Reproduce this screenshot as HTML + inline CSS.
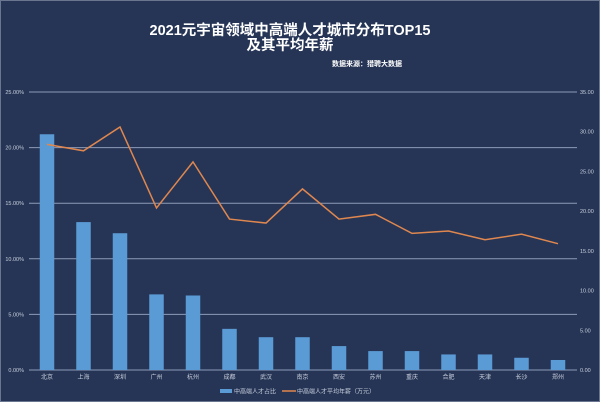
<!DOCTYPE html>
<html><head><meta charset="utf-8"><style>
html,body{margin:0;padding:0;background:#263556;}
svg{display:block}
text{font-family:"Liberation Sans","Noto Sans CJK SC",sans-serif;}
</style></head><body>
<svg width="600" height="402" viewBox="0 0 600 402" xmlns="http://www.w3.org/2000/svg">
<rect x="0" y="0" width="600" height="402" fill="#263556"/>
<rect x="0.5" y="0.5" width="599" height="401" fill="none" stroke="#6a7690" stroke-width="1"/>
<text x="290" y="35" fill="#fff" font-size="14.5" font-weight="bold" text-anchor="middle">2021元宇宙领域中高端人才城市分布TOP15</text>
<text x="290" y="50" fill="#fff" font-size="14.5" font-weight="bold" text-anchor="middle">及其平均年薪</text>
<text x="367" y="66" fill="#fff" font-size="7" font-weight="bold" text-anchor="middle">数据来源：猎聘大数据</text>
<g stroke="#8e9bb8" stroke-width="1">
<line x1="29" y1="92" x2="577" y2="92"/>
<line x1="29" y1="147.6" x2="577" y2="147.6"/>
<line x1="29" y1="203.2" x2="577" y2="203.2"/>
<line x1="29" y1="258.8" x2="577" y2="258.8"/>
<line x1="29" y1="314.4" x2="577" y2="314.4"/>
<line x1="29" y1="370" x2="577" y2="370"/>
</g>
<g fill="#c8cedc" font-size="5.5" text-anchor="end">
<text x="24" y="94">25.00%</text><text x="24" y="149.6">20.00%</text><text x="24" y="205.2">15.00%</text><text x="24" y="260.8">10.00%</text><text x="24" y="316.4">5.00%</text><text x="24" y="372">0.00%</text>
</g>
<g fill="#c8cedc" font-size="5.5">
<text x="580" y="94">35.00</text><text x="580" y="133.7">30.00</text><text x="580" y="173.4">25.00</text><text x="580" y="213.1">20.00</text><text x="580" y="252.9">15.00</text><text x="580" y="292.6">10.00</text><text x="580" y="332.3">5.00</text><text x="580" y="372">0.00</text>
</g>
<g fill="#5b9bd5" id="bars"></g>
<polyline id="ln" fill="none" stroke="#e0874f" stroke-width="1.5"/>
<g id="cats" fill="#c8cedc" font-size="6" text-anchor="middle"></g>
<rect x="220" y="389" width="12" height="4" fill="#5b9bd5"/>
<text x="234" y="393.5" fill="#c8cedc" font-size="6">中高端人才占比</text>
<line x1="282" y1="391" x2="296" y2="391" stroke="#e0874f" stroke-width="1.5"/>
<text x="297" y="393.5" fill="#c8cedc" font-size="6">中高端人才平均年薪（万元）</text>
<script>
var c=["北京","上海","深圳","广州","杭州","成都","武汉","南京","西安","苏州","重庆","合肥","天津","长沙","郑州"];
var b=[21.2,13.3,12.3,6.8,6.7,3.7,2.95,2.95,2.15,1.7,1.7,1.4,1.4,1.1,0.9];
var l=[28.4,27.6,30.6,20.4,26.2,19.0,18.5,22.8,19.0,19.6,17.2,17.5,16.4,17.1,15.9];
var ns="http://www.w3.org/2000/svg",g=document.getElementById("bars"),t=document.getElementById("cats"),p=[];
for(var i=0;i<15;i++){var x=47+i*36.5;var h=b[i]*278/25;
var r=document.createElementNS(ns,"rect");r.setAttribute("x",x-7.25);r.setAttribute("y",370-h);r.setAttribute("width",14.5);r.setAttribute("height",h);g.appendChild(r);
var s=document.createElementNS(ns,"text");s.setAttribute("x",x);s.setAttribute("y",379);s.textContent=c[i];t.appendChild(s);
p.push(x+","+(370-l[i]*278/35));}
document.getElementById("ln").setAttribute("points",p.join(" "));
</script>
</svg>
</body></html>
